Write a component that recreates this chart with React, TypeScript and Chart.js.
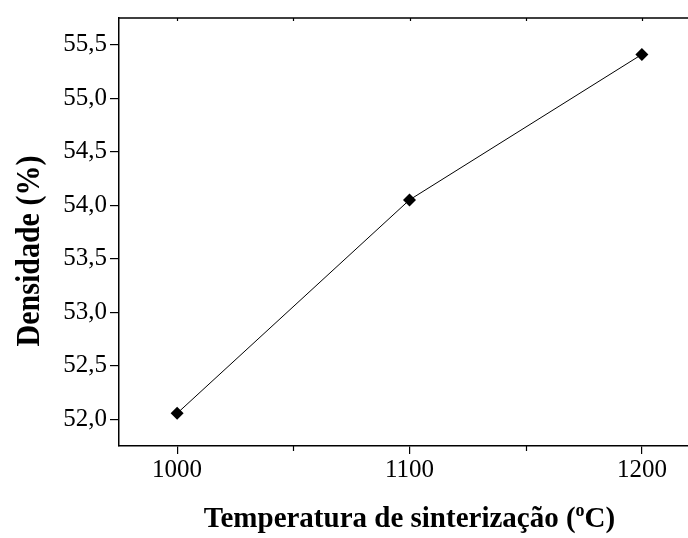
import React, { useEffect, useRef } from "react";
import { Chart, registerables } from "chart.js";

Chart.register(...registerables);

const temperatures = [1000, 1100, 1200];
const densities = [52.055, 54.05, 55.41];
const xTickValues = [1000, 1100, 1200];
const xMinorTicks = [1050, 1150];
const yTickValues = [52.0, 52.5, 53.0, 53.5, 54.0, 54.5, 55.0, 55.5];
const xTitle = "Temperatura de sinterização (";
const xTitleSup = "o";
const xTitleEnd = "C)";
const yTitle = "Densidade (%)";

const SERIF = "'Liberation Serif', 'Times New Roman', serif";

const framePlugin = {
  id: "frame",
  afterDraw(chart: any) {
    const ctx = chart.ctx;
    const { left, right, top, bottom } = chart.chartArea;
    const xs = chart.scales.x;
    ctx.save();
    ctx.strokeStyle = "#000";
    ctx.lineWidth = 1.5;
    ctx.beginPath();
    ctx.moveTo(left - 0.75, top);
    ctx.lineTo(right, top);
    ctx.moveTo(right, top);
    ctx.lineTo(right, bottom);
    ctx.stroke();
    ctx.lineWidth = 1.2;
    ctx.beginPath();
    for (const v of [...xTickValues, ...xMinorTicks]) {
      const px = Math.round(xs.getPixelForValue(v)) + 0.5;
      ctx.moveTo(px, top);
      ctx.lineTo(px, top + 3);
    }
    for (const v of xMinorTicks) {
      const px = Math.round(xs.getPixelForValue(v)) + 0.5;
      ctx.moveTo(px, bottom);
      ctx.lineTo(px, bottom + 5);
    }
    ctx.stroke();

    // titles
    ctx.fillStyle = "#000";
    const big = `bold 29px ${SERIF}`;
    const small = `bold 18px ${SERIF}`;
    ctx.font = big;
    const w1 = ctx.measureText(xTitle).width;
    const w3 = ctx.measureText(xTitleEnd).width;
    ctx.font = small;
    const w2 = ctx.measureText(xTitleSup).width;
    const total = w1 + w2 + w3;
    const cx = (left + right) / 2;
    let x = cx - total / 2;
    const baseY = 527;
    ctx.textBaseline = "alphabetic";
    ctx.textAlign = "left";
    ctx.font = big;
    ctx.fillText(xTitle, x, baseY);
    x += w1;
    ctx.font = small;
    ctx.fillText(xTitleSup, x, baseY - 11);
    x += w2;
    ctx.font = big;
    ctx.fillText(xTitleEnd, x, baseY);

    ctx.save();
    ctx.translate(39, 251);
    ctx.rotate(-Math.PI / 2);
    ctx.scale(1, 1.15);
    ctx.font = `bold 30px ${SERIF}`;
    ctx.textAlign = "center";
    ctx.fillText(yTitle, 0, 0);
    ctx.restore();
    ctx.restore();
  },
};

export default function App() {
  const ref = useRef<HTMLCanvasElement | null>(null);
  useEffect(() => {
    if (!ref.current) return;
    const chart = new Chart(ref.current, {
      type: "line",
      data: {
        datasets: [
          {
            data: temperatures.map((t, i) => ({ x: t, y: densities[i] })),
            borderColor: "#000",
            borderWidth: 1,
            backgroundColor: "#000",
            pointStyle: "rectRot",
            pointRadius: 6.5,
            pointBorderWidth: 0,
            tension: 0,
          },
        ],
      },
      options: {
        animation: false,
        responsive: false,
        layout: { padding: { top: 12, right: 20, left: 0, bottom: 0 } },
        plugins: { legend: { display: false }, tooltip: { enabled: false } },
        scales: {
          x: {
            type: "linear",
            min: 975,
            max: 1225,
            afterFit: (s: any) => {
              s.height = 92;
            },
            afterBuildTicks: (s: any) => {
              s.ticks = xTickValues.map((v) => ({ value: v }));
            },
            ticks: {
              color: "#000",
              font: { family: SERIF, size: 25 },
              padding: 1,
              maxRotation: 0,
              callback: (v: any) => String(v),
            },
            grid: {
              drawOnChartArea: false,
              drawTicks: true,
              tickLength: 8,
              color: "#000",
              lineWidth: 1.2,
            },
            border: { display: true, color: "#000", width: 1.5 },
          },
          y: {
            min: 51.75,
            max: 55.75,
            afterFit: (s: any) => {
              s.width = 119;
            },
            afterBuildTicks: (s: any) => {
              s.ticks = yTickValues.map((v) => ({ value: v }));
            },
            ticks: {
              color: "#000",
              font: { family: SERIF, size: 25 },
              padding: 3,
              callback: (v: any) => Number(v).toFixed(1).replace(".", ","),
            },
            grid: {
              drawOnChartArea: false,
              drawTicks: true,
              tickLength: 9,
              color: "#000",
              lineWidth: 1.2,
            },
            border: { display: true, color: "#000", width: 1.5 },
          },
        },
      },
      plugins: [framePlugin],
    });
    return () => chart.destroy();
  }, []);
  return (
    <div
      style={{
        position: "fixed",
        left: 0,
        top: 0,
        width: 688,
        height: 538,
        overflow: "hidden",
        background: "#fff",
      }}
    >
      <canvas ref={ref} width={720} height={538} style={{ width: 720, height: 538, display: "block" }} />
    </div>
  );
}
